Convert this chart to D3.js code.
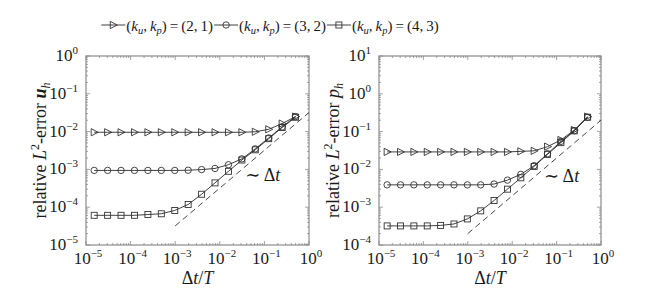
<!DOCTYPE html>
<html>
<head>
<meta charset="utf-8">
<script src="https://cdn.jsdelivr.net/npm/d3@7"></script>
<style>
  body { margin: 0; background: #fff; }
  svg text { font-family: "Liberation Serif", "DejaVu Serif", serif; fill: #1a1a1a; }
</style>
</head>
<body>
<script>
// time step sizes dt/T (same for every series)
var dt = [1.526e-5, 3.052e-5, 6.104e-5, 1.221e-4, 2.441e-4, 4.883e-4, 9.766e-4, 1.953e-3,
          3.906e-3, 7.813e-3, 1.563e-2, 3.125e-2, 6.25e-2, 0.125, 0.25, 0.5];

// relative L2-error of u_h
var uTri  = [0.0096, 0.0096, 0.0096, 0.0096, 0.0096, 0.0096, 0.0096, 0.0096,
             0.0096, 0.0096, 0.0096, 0.0096, 0.0099, 0.0115, 0.0163, 0.025];
var uCirc = [9.4e-4, 9.4e-4, 9.4e-4, 9.4e-4, 9.4e-4, 9.4e-4, 9.4e-4, 9.5e-4,
             9.9e-4, 1.06e-3, 1.33e-3, 1.9e-3, 3.5e-3, 6.8e-3, 0.0133, 0.025];
var uSq   = [6.1e-5, 6.1e-5, 6.1e-5, 6.1e-5, 6.4e-5, 6.7e-5, 8.2e-5, 1.18e-4,
             2.2e-4, 4.4e-4, 8.9e-4, 1.77e-3, 3.3e-3, 6.5e-3, 0.0128, 0.024];

// relative L2-error of p_h
var pTri  = [0.029, 0.029, 0.029, 0.029, 0.029, 0.029, 0.029, 0.029,
             0.029, 0.029, 0.030, 0.031, 0.040, 0.060, 0.11, 0.25];
var pCirc = [0.0039, 0.0039, 0.0039, 0.0039, 0.0039, 0.0039, 0.0039, 0.0039,
             0.0041, 0.0052, 0.0074, 0.0125, 0.026, 0.055, 0.105, 0.24];
var pSq   = [3.2e-4, 3.2e-4, 3.2e-4, 3.2e-4, 3.3e-4, 3.6e-4, 4.9e-4, 8.0e-4,
             1.5e-3, 3.0e-3, 6.0e-3, 0.012, 0.025, 0.051, 0.105, 0.24];

// reference slope lines ~ dt
var refDt = [1e-3, 1];
var uRef  = [3.2e-5, 0.032];
var pRef  = [2e-4, 0.2];

// legend entries
var legendPairs = ['(2,\u20091)', '(3,\u20092)', '(4,\u20093)'];
var markerKinds = ['tri', 'circ', 'sq'];

var width = 664, height = 292;
var svg = d3.select('body').append('svg')
    .attr('width', width)
    .attr('height', height);

var lineColor = '#2a2a2a';
var boxColor = '#8a8a8a';

// draw a marker of given kind centered at 0,0
function marker(g, kind) {
  if (kind === 'circ') {
    g.append('circle').attr('r', 3.2);
  } else if (kind === 'sq') {
    g.append('rect').attr('x', -3).attr('y', -3).attr('width', 6).attr('height', 6);
  } else {
    g.append('path').attr('d', 'M-3,-3.6L4,0L-3,3.6Z');
  }
  g.selectAll('*')
    .attr('fill', 'none')
    .attr('stroke', '#333')
    .attr('stroke-width', 0.9);
}

function powLabel(sel, exp) {
  sel.append('tspan').text('10');
  sel.append('tspan').attr('font-size', '11px').attr('dy', -7).text(exp < 0 ? '\u2212' + (-exp) : exp);
}

var panels = [
  {x0: 86, x1: 309, ydom: [1e-5, 1], series: [uTri, uCirc, uSq], ref: uRef,
   ann: [0.037, 4.8e-4], lab: 'u'},
  {x0: 379, x1: 601, ydom: [1e-4, 10], series: [pTri, pCirc, pSq], ref: pRef,
   ann: [0.052, 4.6e-3], lab: 'p'}
];
var plotTop = 56, plotBottom = 245;

panels.forEach(function(p) {
  var x = d3.scaleLog().domain([1e-5, 1]).range([p.x0, p.x1]);
  var y = d3.scaleLog().domain(p.ydom).range([plotBottom, plotTop]);
  var g = svg.append('g');

  // minor + major ticks, inward, on all four sides
  var xt = x.ticks(), yt = y.ticks();
  function isMajor(v) { return Math.abs(Math.log10(v) - Math.round(Math.log10(v))) < 1e-6; }
  xt.forEach(function(v) {
    var len = isMajor(v) ? 4 : 2;
    g.append('line').attr('x1', x(v)).attr('x2', x(v)).attr('y1', plotBottom).attr('y2', plotBottom - len)
      .attr('stroke', boxColor).attr('stroke-width', 0.8);
    g.append('line').attr('x1', x(v)).attr('x2', x(v)).attr('y1', plotTop).attr('y2', plotTop + len)
      .attr('stroke', boxColor).attr('stroke-width', 0.8);
  });
  yt.forEach(function(v) {
    var len = isMajor(v) ? 4 : 2;
    g.append('line').attr('y1', y(v)).attr('y2', y(v)).attr('x1', p.x0).attr('x2', p.x0 + len)
      .attr('stroke', boxColor).attr('stroke-width', 0.8);
    g.append('line').attr('y1', y(v)).attr('y2', y(v)).attr('x1', p.x1).attr('x2', p.x1 - len)
      .attr('stroke', boxColor).attr('stroke-width', 0.8);
  });
  g.append('rect').attr('x', p.x0).attr('y', plotTop).attr('width', p.x1 - p.x0).attr('height', plotBottom - plotTop)
    .attr('fill', 'none').attr('stroke', boxColor).attr('stroke-width', 1.2);

  // tick labels
  xt.filter(isMajor).forEach(function(v) {
    var t = g.append('text').attr('x', x(v) + 2).attr('y', 264).attr('text-anchor', 'middle')
      .attr('font-size', '17px');
    powLabel(t, Math.round(Math.log10(v)));
  });
  yt.filter(isMajor).forEach(function(v) {
    var t = g.append('text').attr('x', p.x0 - 8).attr('y', y(v) + 5).attr('text-anchor', 'end')
      .attr('font-size', '17px');
    powLabel(t, Math.round(Math.log10(v)));
  });

  // axis labels
  var xl = g.append('text').attr('x', (p.x0 + p.x1) / 2).attr('y', 284)
    .attr('text-anchor', 'middle').attr('font-size', '18px');
  xl.append('tspan').text('\u0394');
  xl.append('tspan').attr('font-style', 'italic').text('t');
  xl.append('tspan').text('/');
  xl.append('tspan').attr('font-style', 'italic').text('T');

  var yl = g.append('text')
    .attr('transform', 'translate(' + (p.x0 - 40) + ',' + ((plotTop + plotBottom) / 2) + ') rotate(-90)')
    .attr('text-anchor', 'middle').attr('font-size', '18px');
  yl.append('tspan').text('relative ');
  yl.append('tspan').attr('font-style', 'italic').text('L');
  yl.append('tspan').attr('font-size', '12px').attr('dy', -7).text('2');
  yl.append('tspan').attr('dy', 7).text('-error ');
  if (p.lab === 'u') {
    yl.append('tspan').attr('font-style', 'italic').attr('font-weight', 'bold').text('u');
  } else {
    yl.append('tspan').attr('font-style', 'italic').text('p');
  }
  yl.append('tspan').attr('font-style', 'italic').attr('font-size', '12px').attr('dy', 4).text('h');

  // reference line
  g.append('line')
    .attr('x1', x(refDt[0])).attr('y1', y(p.ref[0]))
    .attr('x2', x(refDt[1])).attr('y2', y(p.ref[1]))
    .attr('stroke', '#333').attr('stroke-width', 0.9).attr('stroke-dasharray', '6,4');

  var an = g.append('text').attr('x', x(p.ann[0])).attr('y', y(p.ann[1])).attr('font-size', '18px');
  an.append('tspan').text('\u223C \u0394');
  an.append('tspan').attr('font-style', 'italic').text('t');

  // series
  var line = d3.line().x(function(d) { return x(d[0]); }).y(function(d) { return y(d[1]); });
  p.series.forEach(function(s, i) {
    var pts = dt.map(function(d, j) { return [d, s[j]]; });
    g.append('path').attr('d', line(pts)).attr('fill', 'none')
      .attr('stroke', lineColor).attr('stroke-width', 0.9);
    pts.forEach(function(d) {
      var m = g.append('g').attr('transform', 'translate(' + x(d[0]) + ',' + y(d[1]) + ')');
      marker(m, markerKinds[i]);
    });
  });
});

// legend, laid out left to right then centred on the figure
var legend = svg.append('g');
var lx = 0;
legendPairs.forEach(function(lbl, i) {
  var lg = legend.append('g').attr('transform', 'translate(' + lx + ',25)');
  lg.append('line').attr('x1', 0).attr('x2', 24).attr('y1', 0).attr('y2', 0)
    .attr('stroke', lineColor).attr('stroke-width', 0.9);
  var m = lg.append('g').attr('transform', 'translate(12,0)');
  marker(m, markerKinds[i]);
  var t = lg.append('text').attr('x', 25).attr('y', 5.5).attr('font-size', '15px');
  t.append('tspan').text('(');
  t.append('tspan').attr('font-style', 'italic').text('k');
  t.append('tspan').attr('font-style', 'italic').attr('font-size', '10.5px').attr('dy', 3).text('u');
  t.append('tspan').attr('dy', -3).text(',\u2009');
  t.append('tspan').attr('font-style', 'italic').text('k');
  t.append('tspan').attr('font-style', 'italic').attr('font-size', '10.5px').attr('dy', 3).text('p');
  t.append('tspan').attr('dy', -3).text(')\u2009=\u2009' + lbl);
  lx += 25 + t.node().getComputedTextLength() + 1;
});
legend.attr('transform', 'translate(' + (270.5 - lx / 2) + ',0)');
</script>
</body>
</html>
